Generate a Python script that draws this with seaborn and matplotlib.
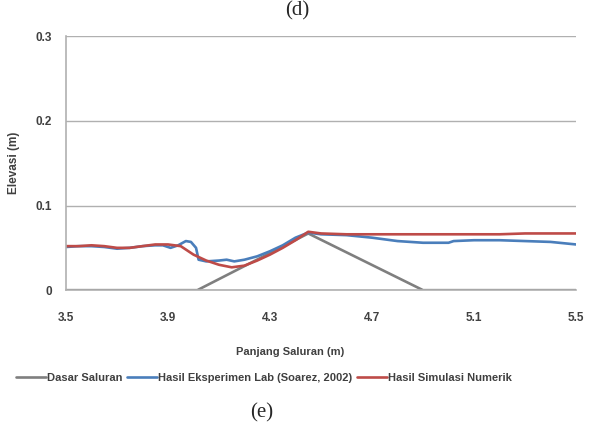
import pandas as pd
import numpy as np
import matplotlib.pyplot as plt
import seaborn as sns

# Channel bed profile
dasar_x = [3.5, 4.015, 4.45, 4.9, 5.5]
dasar_y = [0.0, 0.0, 0.067, 0.0, 0.0]

# Lab experiment (Soarez, 2002)
lab_x = [3.5, 3.55, 3.6, 3.65, 3.7, 3.75, 3.8, 3.85, 3.88, 3.91, 3.94, 3.97, 3.99,
         4.01, 4.02, 4.05, 4.1, 4.13, 4.16, 4.2, 4.25, 4.3, 4.35, 4.4, 4.45, 4.5,
         4.6, 4.7, 4.8, 4.9, 5.0, 5.02, 5.1, 5.2, 5.3, 5.4, 5.5]
lab_y = [0.051, 0.052, 0.052, 0.051, 0.049, 0.050, 0.052, 0.053, 0.053, 0.050, 0.053,
         0.058, 0.057, 0.050, 0.036, 0.034, 0.035, 0.036, 0.034, 0.036, 0.040, 0.046,
         0.053, 0.062, 0.068, 0.066, 0.065, 0.062, 0.058, 0.056, 0.056, 0.058, 0.059,
         0.059, 0.058, 0.057, 0.054]

# Numerical simulation
sim_x = [3.5, 3.55, 3.6, 3.65, 3.7, 3.75, 3.8, 3.85, 3.9, 3.95, 4.0, 4.05, 4.1, 4.15,
         4.2, 4.25, 4.3, 4.35, 4.4, 4.45, 4.5, 4.6, 4.8, 5.0, 5.2, 5.3, 5.5]
sim_y = [0.052, 0.052, 0.053, 0.052, 0.050, 0.050, 0.052, 0.054, 0.054, 0.052, 0.042,
         0.035, 0.030, 0.027, 0.029, 0.035, 0.042, 0.050, 0.059, 0.069, 0.067, 0.066,
         0.066, 0.066, 0.066, 0.067, 0.067]

x_ticks = [3.5, 3.9, 4.3, 4.7, 5.1, 5.5]
y_ticks = [0, 0.1, 0.2, 0.3]

sns.set_style('white')
plt.rcParams['font.family'] = ['Liberation Sans', 'DejaVu Sans']
txt = '#404040'

fig = plt.figure(figsize=(5.89, 4.41), dpi=100)
ax = fig.add_axes([0.112, 0.342, 0.866, 0.576])

sns.lineplot(x=dasar_x, y=dasar_y, ax=ax, color='#7f7f7f', lw=1.9, label='Dasar Saluran')
sns.lineplot(x=lab_x, y=lab_y, ax=ax, color='#4a7ebb', lw=1.9, sort=False,
             label='Hasil Eksperimen Lab (Soarez, 2002)')
sns.lineplot(x=sim_x, y=sim_y, ax=ax, color='#be4b48', lw=1.9, sort=False,
             label='Hasil Simulasi Numerik')

ax.set_xlim(3.5, 5.5)
ax.set_ylim(0, 0.3)
ax.set_xticks(x_ticks)
ax.set_xticklabels([str(v) for v in x_ticks])
ax.set_yticks(y_ticks)
ax.set_yticklabels(['0', '0.1', '0.2', '0.3'])
ax.yaxis.grid(True, color='#b0b0b0', lw=1)
for s in ['top', 'right']:
    ax.spines[s].set_visible(False)
for s in ['left', 'bottom']:
    ax.spines[s].set_color('#b0b0b0')
    ax.spines[s].set_linewidth(1.2)
ax.tick_params(length=0, labelsize=8.5, labelcolor=txt)
ax.tick_params(axis='x', pad=16)
ax.tick_params(axis='y', pad=10)
for lab in ax.get_xticklabels() + ax.get_yticklabels():
    lab.set_fontweight('bold')

ax.set_xlabel('Panjang Saluran (m)', fontsize=8, fontweight='bold', color=txt)
ax.xaxis.set_label_coords(0.44, -0.225)
ax.set_ylabel('Elevasi (m)', fontsize=8.5, fontweight='bold', color=txt, labelpad=11)

ax.legend_.remove()
h, l = ax.get_legend_handles_labels()
fig.legend(h, l, loc='center', bbox_to_anchor=(0.448, 0.143), ncol=3, frameon=False,
           handlelength=2.7, handletextpad=0.1, columnspacing=0.4,
           labelcolor=txt, prop={'weight': 'bold', 'size': 8})

fig.text(0.505, 0.975, '(d)', ha='center', va='center', fontsize=15, family='Liberation Serif')
fig.text(0.445, 0.063, '(e)', ha='center', va='center', fontsize=15, family='Liberation Serif')

plt.savefig('out.png', dpi=100)
